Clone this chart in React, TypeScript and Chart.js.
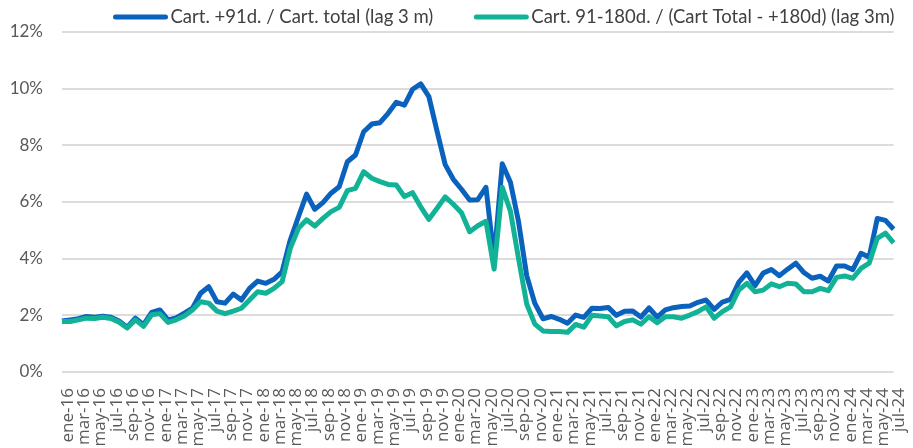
import React, { useEffect, useRef } from "react";
import { Chart, registerables } from "chart.js";

Chart.register(...registerables);

const MONTHS = ["ene", "feb", "mar", "abr", "may", "jun", "jul", "ago", "sep", "oct", "nov", "dic"];
const YEARS = ["16", "17", "18", "19", "20", "21", "22", "23", "24"];
const LAST_MONTH_2024 = 7; // jul-24

const CATEGORIES: string[] = [];
YEARS.forEach((y, yi) => {
  MONTHS.forEach((m, mi) => {
    if (yi === YEARS.length - 1 && mi >= LAST_MONTH_2024) return;
    CATEGORIES.push(`${m}-${y}`);
  });
});

const SERIES_1_LABEL = "Cart. +91d. / Cart. total (lag 3 m)";
const SERIES_2_LABEL = "Cart. 91-180d. / (Cart Total - +180d) (lag 3m)";

// % values, ene-16 .. jul-24
const CART_91 = [
  1.80, 1.84, 1.88, 1.96, 1.93, 1.97, 1.93, 1.80, 1.58, 1.90, 1.67, 2.10,
  2.19, 1.84, 1.91, 2.08, 2.25, 2.78, 3.01, 2.48, 2.43, 2.75, 2.54, 2.95,
  3.21, 3.13, 3.27, 3.54, 4.66, 5.48, 6.28, 5.74, 5.98, 6.31, 6.54, 7.42,
  7.66, 8.48, 8.75, 8.80, 9.13, 9.52, 9.42, 9.98, 10.17, 9.72, 8.50, 7.32,
  6.80, 6.45, 6.07, 6.08, 6.52, 4.00, 7.35, 6.70, 5.30, 3.40, 2.42, 1.88,
  1.96, 1.86, 1.72, 2.01, 1.93, 2.25, 2.24, 2.28, 2.00, 2.14, 2.15, 1.94,
  2.26, 1.94, 2.19, 2.27, 2.31, 2.33, 2.46, 2.54, 2.21, 2.47, 2.56, 3.16,
  3.50, 3.05, 3.49, 3.62, 3.40, 3.63, 3.84, 3.51, 3.31, 3.38, 3.21, 3.74,
  3.74, 3.61, 4.19, 4.05, 5.42, 5.35, 5.04,
];

const CART_91_180 = [
  1.78, 1.78, 1.84, 1.90, 1.89, 1.93, 1.89, 1.76, 1.55, 1.84, 1.61, 2.02,
  2.06, 1.75, 1.84, 1.98, 2.19, 2.48, 2.43, 2.15, 2.06, 2.15, 2.25, 2.54,
  2.83, 2.78, 2.95, 3.19, 4.37, 5.07, 5.37, 5.15, 5.42, 5.66, 5.81, 6.40,
  6.48, 7.07, 6.84, 6.72, 6.62, 6.60, 6.19, 6.33, 5.83, 5.39, 5.78, 6.18,
  5.92, 5.62, 4.95, 5.16, 5.32, 3.63, 6.52, 5.68, 4.00, 2.40, 1.69, 1.45,
  1.43, 1.43, 1.40, 1.68, 1.58, 2.00, 1.98, 1.95, 1.63, 1.78, 1.84, 1.69,
  1.95, 1.74, 1.95, 1.95, 1.90, 2.01, 2.13, 2.30, 1.90, 2.13, 2.30, 2.89,
  3.13, 2.83, 2.89, 3.11, 3.01, 3.13, 3.11, 2.83, 2.83, 2.95, 2.87, 3.34,
  3.39, 3.31, 3.66, 3.84, 4.72, 4.90, 4.56,
];

const Y_MIN = 0;
const Y_MAX = 12;
const Y_STEP = 2;

const BLUE = "#0A62BD";
const TEAL = "#12B296";
const TICK_COLOR = "#595959";
const LEGEND_COLOR = "#404040";
const GRID_COLOR = "#DCDCDC";

const LEGEND_CENTER_X = 504;
const LEGEND_Y = 17;
const LEGEND_LINE = 54;
const LEGEND_GAP = 3;
const LEGEND_SPACING = 41;
const LEGEND_FONT = "18.5px Lato";

const legendPlugin = {
  id: "customLegend",
  afterDraw(chart: any) {
    const ctx = chart.ctx as CanvasRenderingContext2D;
    ctx.save();
    ctx.font = LEGEND_FONT;
    const items = chart.data.datasets.map((d: any) => ({
      label: d.label as string,
      color: d.borderColor as string,
      w: ctx.measureText(d.label).width,
    }));
    const total =
      items.reduce((s: number, it: any) => s + LEGEND_LINE + LEGEND_GAP + it.w, 0) +
      LEGEND_SPACING * (items.length - 1);
    let x = LEGEND_CENTER_X - total / 2;
    items.forEach((it: any) => {
      ctx.strokeStyle = it.color;
      ctx.lineWidth = 5;
      ctx.lineCap = "round";
      ctx.beginPath();
      ctx.moveTo(x + 2, LEGEND_Y);
      ctx.lineTo(x + LEGEND_LINE - 2, LEGEND_Y);
      ctx.stroke();
      ctx.fillStyle = LEGEND_COLOR;
      ctx.textBaseline = "middle";
      ctx.textAlign = "left";
      ctx.fillText(it.label, x + LEGEND_LINE + LEGEND_GAP, LEGEND_Y);
      x += LEGEND_LINE + LEGEND_GAP + it.w + LEGEND_SPACING;
    });
    ctx.restore();
  },
};

export default function App() {
  const canvasRef = useRef<HTMLCanvasElement | null>(null);

  useEffect(() => {
    if (!canvasRef.current) return;
    const chart = new Chart(canvasRef.current, {
      type: "line",
      data: {
        labels: CATEGORIES,
        datasets: [
          {
            label: SERIES_1_LABEL,
            data: CART_91,
            borderColor: BLUE,
            backgroundColor: BLUE,
            borderWidth: 5,
            pointRadius: 0,
            tension: 0,
            borderJoinStyle: "round",
            order: 1,
          },
          {
            label: SERIES_2_LABEL,
            data: CART_91_180,
            borderColor: TEAL,
            backgroundColor: TEAL,
            borderWidth: 5,
            pointRadius: 0,
            tension: 0,
            borderJoinStyle: "round",
            order: 0,
          },
        ],
      },
      options: {
        animation: false,
        responsive: true,
        maintainAspectRatio: false,
        layout: { padding: { top: 32, left: 0, right: 17, bottom: 0 } },
        plugins: {
          legend: { display: false },
          tooltip: { enabled: false },
        },
        scales: {
          x: {
            offset: false,
            grid: { display: false, drawTicks: false },
            border: { display: false },
            afterFit: (scale: any) => {
              scale.height = 76;
            },
            ticks: {
              autoSkip: false,
              minRotation: 90,
              maxRotation: 90,
              padding: 16,
              labelOffset: 6,
              color: TICK_COLOR,
              font: { family: "'Open Sans'", size: 17 },
              callback: (_v: any, i: number) => (i % 2 === 0 ? CATEGORIES[i] : ""),
            },
          },
          y: {
            min: Y_MIN,
            max: Y_MAX,
            grid: { color: GRID_COLOR, lineWidth: 2, drawTicks: false },
            border: { display: false },
            afterFit: (scale: any) => {
              scale.width = 62;
            },
            ticks: {
              stepSize: Y_STEP,
              padding: 19,
              color: TICK_COLOR,
              font: { family: "Lato", size: 17 },
              callback: (v: any) => `${v}%`,
            },
          },
        },
      },
      plugins: [legendPlugin],
    });
    return () => chart.destroy();
  }, []);

  return (
    <div
      style={{
        position: "fixed",
        left: 0,
        top: 0,
        width: 913,
        height: 448,
        overflow: "hidden",
        background: "#fff",
      }}
    >
      <div style={{ position: "relative", width: 930, height: 448 }}>
        <canvas ref={canvasRef} />
      </div>
    </div>
  );
}
